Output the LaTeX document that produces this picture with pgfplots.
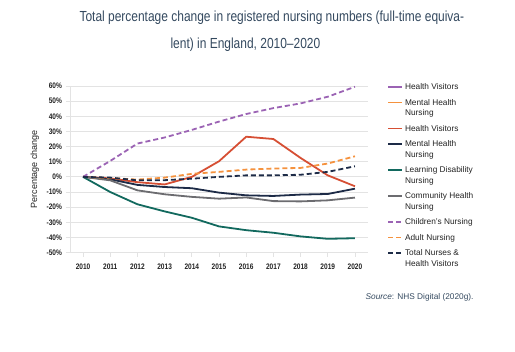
\documentclass[border=0pt]{standalone}
\usepackage{fontspec}
\setmainfont{Liberation Sans}
\newfontfamily\condfont[FakeStretch=0.82,Ligatures=TeX]{Liberation Sans}
\usepackage{pgfplots}
\pgfplotsset{compat=1.18}
\definecolor{titlec}{HTML}{34495F}
\definecolor{gridc}{HTML}{E3E3E3}
\definecolor{cpurple}{HTML}{9B63B4}
\definecolor{corange}{HTML}{F5923E}
\definecolor{cred}{HTML}{D64F34}
\definecolor{cnavy}{HTML}{1D2B47}
\definecolor{cteal}{HTML}{12695E}
\definecolor{cgray}{HTML}{6C6C70}
\definecolor{tickc}{HTML}{222222}
\pgfplotsset{
  oneline/.style={legend image code/.code={\draw[##1] (0pt,2.8pt) -- (14pt,2.8pt);}},
  twoline/.style={legend image code/.code={\draw[##1] (0pt,13.3pt) -- (14pt,13.3pt);}},
}
\begin{document}
\begin{tikzpicture}
\path[use as bounding box] (0,0) rectangle (515pt,-352pt);
\node[font=\condfont\fontsize{14.6}{16}\selectfont, text=titlec, anchor=west] at (76pt,-18pt) {Total percentage change in registered nursing numbers (full-time equiva-};
\node[font=\condfont\fontsize{14.6}{16}\selectfont, text=titlec, anchor=west] at (167pt,-45pt) {lent) in England, 2010–2020};
\node[font=\fontsize{8.3}{10}\selectfont, text=titlec, anchor=east] at (477pt,-297pt) {\textit{Source}: NHS Digital (2020g).};
\begin{axis}[
  at={(70pt,-252.6pt)}, anchor=south west,
  scale only axis, width=298pt, height=166.6pt,
  xmin=2009.52, xmax=2020.48, ymin=-50, ymax=60,
  xtick={2010,2011,...,2020},
  ytick={-50,-40,...,60},
  axis lines*=left,
  axis line style={draw=gridc, line width=0.8pt, -},
  tick style={draw=gridc, line width=0.8pt},
  tick align=outside,
  major tick length=4.5pt,
  ymajorgrids,
  grid style={draw=gridc, line width=0.8pt},
  /pgf/number format/assume math mode=true,
  x tick label style={font=\condfont\bfseries\fontsize{8}{9}\selectfont, text=tickc, /pgf/number format/1000 sep={}, yshift=-3pt},
  y tick label style={font=\condfont\bfseries\fontsize{8}{9}\selectfont, text=tickc},
  yticklabel={\pgfmathprintnumber{\tick}\%},
  ylabel={Percentage change},
  ylabel style={font=\fontsize{9}{10}\selectfont, text=tickc, at={(axis description cs:-0.118,0.5)}, anchor=center},
  legend style={at={(axis description cs:1.064,1.027)}, anchor=north west, draw=none, fill=none,
    font=\fontsize{8.3}{10.5}\selectfont, text=tickc, row sep=4pt,
    cells={anchor=base west, align=left}, inner sep=0pt},
  oneline,
]
\addlegendimage{oneline, cpurple, line width=1.8pt}
\addlegendimage{twoline, corange, line width=1.8pt}
\addplot[oneline, cred, line width=1.8pt] coordinates {(2010,0) (2011,-1) (2012,-3.5) (2013,-5) (2014,0) (2015,10.3) (2016,26.5) (2017,25) (2018,12.5) (2019,1) (2020,-6.2)};
\addplot[twoline, cnavy, line width=1.8pt] coordinates {(2010,0) (2011,-1.6) (2012,-5.3) (2013,-6.7) (2014,-7.5) (2015,-10.4) (2016,-12.2) (2017,-12.6) (2018,-11.7) (2019,-11.3) (2020,-7.8)};
\addplot[twoline, cteal, line width=1.8pt] coordinates {(2010,0) (2011,-10) (2012,-18.1) (2013,-22.8) (2014,-27) (2015,-32.7) (2016,-35.2) (2017,-36.9) (2018,-39.3) (2019,-40.9) (2020,-40.5)};
\addplot[twoline, cgray, line width=1.8pt] coordinates {(2010,0) (2011,-2.3) (2012,-8.9) (2013,-11.5) (2014,-13.2) (2015,-14.4) (2016,-13.6) (2017,-16) (2018,-16.2) (2019,-15.5) (2020,-13.7)};
\addplot[oneline, cpurple, line width=1.8pt, dash pattern=on 5pt off 3pt] coordinates {(2010,0) (2011,10.5) (2012,22) (2013,26) (2014,31) (2015,36.5) (2016,41.5) (2017,45.4) (2018,48.5) (2019,52.9) (2020,59.5)};
\addplot[oneline, corange, line width=1.8pt, dash pattern=on 5pt off 3pt] coordinates {(2010,0) (2011,-0.8) (2012,-1.8) (2013,-0.5) (2014,2) (2015,3.3) (2016,4.8) (2017,5.5) (2018,5.9) (2019,8.8) (2020,13.6)};
\addplot[twoline, cnavy, line width=1.8pt, dash pattern=on 5pt off 3pt] coordinates {(2010,0) (2011,-0.5) (2012,-2.3) (2013,-2.2) (2014,-1.2) (2015,0) (2016,1) (2017,1) (2018,1.4) (2019,3.3) (2020,7)};
\legend{Health Visitors, Mental Health\\Nursing, Health Visitors, Mental Health\\Nursing, Learning Disability\\Nursing, Community Health\\Nursing, Children's Nursing, Adult Nursing, Total Nurses \&\\Health Visitors}
\end{axis}
\end{tikzpicture}
\end{document}
